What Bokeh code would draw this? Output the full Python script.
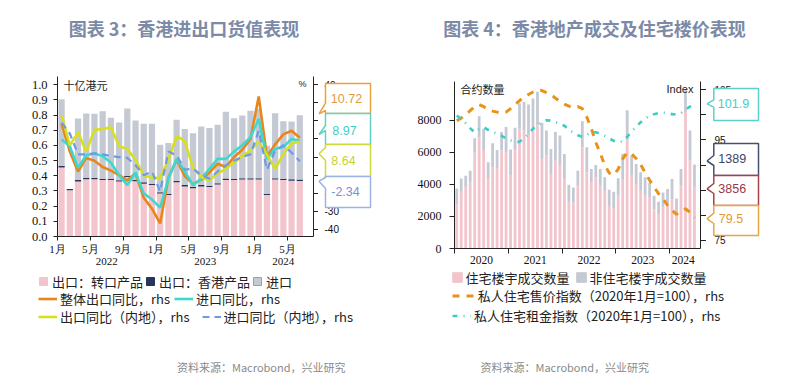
import numpy as np
from bokeh.plotting import figure
from bokeh.layouts import row, column
from bokeh.models import (Range1d, LinearAxis, FixedTicker, Legend, LegendItem, Label,
                          ColumnDataSource, PrintfTickFormatter)
from bokeh.core.properties import value
from bokeh.embed import file_html
from bokeh.resources import INLINE

# ---------------- Chart 3: Hong Kong trade, Jan 2022 - Jun 2024 ----------------
re_exports = [0.455, 0.305, 0.363, 0.378, 0.377, 0.372, 0.372, 0.362, 0.392, 0.365,
              0.348, 0.340, 0.284, 0.274, 0.357, 0.330, 0.318, 0.330, 0.326, 0.342,
              0.373, 0.372, 0.375, 0.375, 0.375, 0.274, 0.375, 0.372, 0.368, 0.366]
domestic_exports = [0.009, 0.008, 0.009, 0.009, 0.009, 0.009, 0.009, 0.009, 0.009, 0.009,
                    0.009, 0.008, 0.008, 0.008, 0.009, 0.009, 0.009, 0.009, 0.009, 0.009,
                    0.009, 0.009, 0.009, 0.009, 0.009, 0.008, 0.009, 0.009, 0.009, 0.009]
imports_val = [0.441, 0.000, 0.406, 0.424, 0.423, 0.445, 0.401, 0.381, 0.443, 0.391,
               0.386, 0.395, 0.312, 0.335, 0.403, 0.369, 0.353, 0.386, 0.380, 0.385,
               0.440, 0.399, 0.413, 0.445, 0.456, 0.316, 0.428, 0.379, 0.381, 0.425]
total_export_yoy = [18.4, 3.0, -8.0, -0.5, -2.0, -5.5, -7.5, -10.0, -13.0, -9.0,
                    -22.5, -28.5, -36.7, -11.5, -1.5, -10.5, -15.0, -12.5, -8.5, -3.7,
                    -5.5, 0.0, 4.0, 10.0, 33.5, 0.5, 7.0, 12.5, 14.5, 10.72]
import_yoy = [9.7, 6.0, -6.0, 1.0, 2.0, 0.5, -3.0, -10.0, -15.5, -8.5,
              -20.0, -23.5, -28.0, -12.0, -1.0, -8.0, -15.5, -12.0, -6.5, -1.0,
              -1.0, 3.0, 6.5, 11.0, 21.0, -1.0, 4.5, 5.5, 10.0, 8.97]
export_yoy_mainland = [23.0, 6.5, 13.5, 3.0, 15.0, 15.5, 16.5, 6.0, 4.5, -1.5,
                       -10.0, -11.5, -11.5, -1.5, 11.5, 9.0, -6.0, -11.0, -13.0, -9.0,
                       -6.5, -3.0, 0.5, 3.5, 8.5, 1.5, -6.5, 1.5, 7.5, 8.64]
import_yoy_mainland = [19.0, 13.0, 1.5, 1.5, 2.0, 1.5, 0.5, 0.0, -0.5, -4.5,
                       -10.0, -8.0, -19.0, 3.0, 1.0, -7.0, -6.5, -10.0, -12.0, -8.0,
                       -4.5, -2.0, 0.0, 1.5, 14.5, -7.0, 3.5, 6.5, 2.5, -2.34]
trade_month_ticks = [0, 4, 8, 12, 16, 20, 24, 28]
trade_month_labels = ["1月", "5月", "9月", "1月", "5月", "9月", "1月", "5月"]
trade_year_pos = [6, 18, 27.5]
trade_year_labels = ["2022", "2023", "2024"]
trade_rhs_ticks = list(range(-40, 41, 10))

# ---------------- Chart 4: HK property, Jan 2020 - Jun 2024 ----------------
residential = [2768, 3600, 3850, 4127, 6014, 6958, 6160, 4400, 5072, 5030, 6120, 6014,
               4546, 6160, 7482, 7378, 7063, 7482, 7692, 5594, 5805, 4650, 5490, 5175,
               4336, 2870, 2873, 3921, 6333, 4760, 4131, 4446, 3921, 3607, 2663, 2495,
               3292, 4341, 6752, 4550, 4026, 3607, 3292, 3187, 2453, 2139, 2558, 2768,
               3083, 2244, 3921, 8535, 5494, 3856]
non_residential = [986, 780, 696, 734, 881, 1300, 1322, 985, 1510, 1133, 1154, 1575,
                   1638, 1387, 1575, 1784, 1931, 1890, 2099, 2268, 1575, 1576, 1784, 1888,
                   1573, 1112, 944, 944, 1615, 1573, 839, 776, 1049, 839, 1007, 1049,
                   1091, 1573, 1888, 1259, 1258, 1153, 1154, 902, 839, 776, 944, 944,
                   1258, 881, 1049, 1363, 1887, 1389]
price_index = [98.8, 99.3, 100.0, 100.8, 101.6, 102.0, 101.6, 101.0, 100.7, 100.5, 100.3, 100.5,
               101.2, 102.0, 102.8, 103.5, 104.0, 104.5, 104.9, 104.8, 104.4, 104.0, 103.3, 102.6,
               102.1, 101.7, 101.4, 101.6, 101.2, 99.5, 97.3, 94.5, 92.3, 90.0, 88.4, 88.0,
               89.2, 91.2, 92.5, 92.2, 91.3, 90.1, 88.5, 87.0, 85.6, 84.3, 83.3, 82.0,
               81.0, 80.2, 80.8, 81.3, 80.6, 79.5]
rent_index = [99.8, 99.2, 98.3, 97.3, 96.5, 97.2, 97.5, 97.0, 96.6, 96.2, 95.8, 95.3,
              94.9, 94.6, 94.6, 95.3, 96.2, 97.2, 97.9, 98.5, 98.9, 98.8, 98.5, 98.3,
              97.8, 97.0, 96.4, 95.9, 95.6, 96.0, 96.5, 96.5, 96.2, 95.8, 95.3, 94.8,
              94.5, 94.7, 95.6, 96.6, 97.6, 98.5, 99.2, 99.8, 100.1, 100.3, 100.4, 100.3,
              100.1, 100.0, 100.3, 101.0, 101.6, 101.9]
prop_year_bounds = [0, 12, 24, 36, 48]
prop_year_pos = [6, 18, 30, 42, 51]
prop_year_labels = ["2020", "2021", "2022", "2023", "2024"]
prop_lhs_ticks = [0, 2000, 4000, 6000, 8000]
prop_rhs_ticks = list(range(75, 106, 5))

titles = ["图表 3：香港进出口货值表现", "图表 4：香港地产成交及住宅楼价表现"]
source_text = "资料来源：Macrobond，兴业研究"

# ---------------- styling ----------------
CJK = "Noto Sans CJK SC"
SERIF = "Liberation Serif"
SANS = "Liberation Sans"
PINK, NAVY, GRAY = "#f2c4cc", "#26365a", "#c4c9d3"
C_OR, C_CY, C_YE, C_BL = "#e8861a", "#3fd8cf", "#d6df22", "#6d9be4"
C_OR2, C_CY2 = "#e8921b", "#3ccdc4"
TITLE_C, SRC_C = "#7b8aa7", "#8a8a8a"
NONE = np.array([np.nan])  # legend-only renderers carry no visible data


def style_axis(ax, size="12px", font=SERIF, tick_out=4, standoff=5):
    ax.axis_line_color = "#222222"
    ax.major_tick_line_color = "#222222"
    ax.major_tick_in = 0
    ax.major_tick_out = tick_out
    ax.minor_tick_line_color = None
    ax.major_label_text_font = font
    ax.major_label_text_font_size = size
    ax.major_label_text_color = "#111111"
    ax.major_label_standoff = standoff


def chart_fig(w, h, xr, yr, bl, br, bt, bb):
    p = figure(width=w, height=h, x_range=xr, y_range=yr, output_backend="svg",
               toolbar_location=None, title=None, min_border_left=bl, min_border_right=br,
               min_border_top=bt, min_border_bottom=bb)
    p.xgrid.grid_line_color = None
    p.ygrid.grid_line_color = None
    p.outline_line_color = None
    return p


def blank_fig(w, h, xr, yr, bt=0, bb=0):
    p = figure(width=w, height=h, x_range=xr, y_range=yr, output_backend="svg",
               toolbar_location=None, title=None, x_axis_type=None, y_axis_type=None,
               min_border_left=0, min_border_right=0, min_border_top=bt, min_border_bottom=bb)
    p.outline_line_color = None
    p.xgrid.grid_line_color = None
    p.ygrid.grid_line_color = None
    return p


def frame_text(p, x, y, t, size, font=CJK, align="left"):
    p.add_layout(Label(x=x, y=y, x_units="screen", y_units="screen", text=t,
                       text_align=align, text_baseline="middle", text_font=font,
                       text_font_size=size, text_color="#222222"))


def callouts(b, boxes, x0, x1, xt, line_cols, texts, txt_cols, txt_pos):
    xs, ys = [], []
    for ytop, ybot, ba, bb, tip in boxes:
        xs.append([x0, x1, x1, x0, x0, xt, x0])
        ys.append([ytop, ytop, ybot, ybot, bb, tip, ba])
    b.patches(xs, ys, fill_color="white", line_color=line_cols, line_width=1.5)
    b.text(x=[p[0] for p in txt_pos], y=[p[1] for p in txt_pos], text=texts,
           text_color=txt_cols, text_align="center", text_baseline="middle",
           text_font=value(SANS), text_font_size="12.5px")


def legend_row(p, items, vx, vy, gw, gh, standoff, spacing, lh=15):
    leg = Legend(items=items, location=(vx, vy), orientation="horizontal",
                 glyph_width=gw, glyph_height=gh, label_height=lh, label_width=10,
                 label_standoff=standoff, spacing=spacing, padding=0, margin=0,
                 border_line_color=None, background_fill_alpha=0,
                 label_text_font=CJK, label_text_font_size="13px",
                 label_text_color="#222222")
    p.add_layout(leg)


# ================= titles strip =================
top = blank_fig(800, 55, Range1d(0, 800), Range1d(55, 0))
top.text(x=[183.5, 594], y=[27, 27], text=titles, text_align="center",
         text_baseline="middle", text_font=value(CJK), text_font_size="18px",
         text_font_style="bold", text_color=TITLE_C)

# ================= Chart 3 =================
n1 = len(re_exports)
src1 = ColumnDataSource(dict(x=np.arange(n1) + 0.5, re=re_exports, dom=domestic_exports,
                             imp=imports_val, t=total_export_yoy, i=import_yoy,
                             em=export_yoy_mainland, im=import_yoy_mainland))
rhs1 = (-43.9, 44.5)
p1 = chart_fig(318, 217, Range1d(0, 31.17), Range1d(0, 1.0547), 57, 5, 21, 36)
p1.extra_y_ranges = {"rhs": Range1d(*rhs1)}
p1.vbar_stack(["re", "dom", "imp"], x="x", width=0.76, source=src1,
              color=[PINK, NAVY, GRAY], line_color=None)
p1.line("x", "t", source=src1, y_range_name="rhs", color=C_OR, line_width=2.6)
p1.line("x", "i", source=src1, y_range_name="rhs", color=C_CY, line_width=2.6)
p1.line("x", "em", source=src1, y_range_name="rhs", color=C_YE, line_width=2.6)
p1.line("x", "im", source=src1, y_range_name="rhs", color=C_BL, line_width=2.2,
        line_dash="7 5")

ya = p1.yaxis[0]
style_axis(ya, size="12.5px", standoff=6)
ya.ticker = FixedTicker(ticks=[round(v, 1) for v in np.arange(0, 1.01, 0.1)])
ya.formatter = PrintfTickFormatter(format="%.1f")

xa = p1.xaxis[0]
style_axis(xa, size="11px", standoff=2)
xa.ticker = FixedTicker(ticks=trade_month_ticks)
xa.major_label_overrides = dict(zip(trade_month_ticks, trade_month_labels))

yr_ax = LinearAxis(ticker=FixedTicker(ticks=trade_year_pos),
                   major_label_overrides=dict(zip(trade_year_pos, trade_year_labels)))
style_axis(yr_ax, size="11px", tick_out=0, standoff=0)
yr_ax.axis_line_color = None
yr_ax.major_tick_line_color = None
p1.add_layout(yr_ax, "below")

ra = LinearAxis(y_range_name="rhs", ticker=FixedTicker(ticks=trade_rhs_ticks),
                major_label_overrides={t: "" for t in trade_rhs_ticks})
style_axis(ra, size="10px", font=SANS, tick_out=5, standoff=0)
p1.add_layout(ra, "right")

frame_text(p1, 6, 152, "十亿港元", "11px")
frame_text(p1, 245, 153, "%", "9px", font=SANS, align="center")

# right-hand labels and latest-value callouts of chart 3
b1 = blank_fig(82, 217, Range1d(318, 400), Range1d(236, 76), bt=21, bb=36)
b1.extra_y_ranges = {"rhs": Range1d(*rhs1)}
b1.text(x=[324] * len(trade_rhs_ticks), y=trade_rhs_ticks, y_range_name="rhs",
        text=[str(t) for t in trade_rhs_ticks], text_baseline="middle",
        text_font=value(SANS), text_font_size="10px", text_color="#111111")
callouts(b1, [(83, 113, 102.7, 110, 113.3), (113, 144, 125, 130, 134),
              (144, 176, 147, 160, 153.3), (176, 207, 177, 188, 180.7)],
         325, 370, 318.5, ["#e8a23c", "#5fd3c8", "#cfd83a", "#9ab4e4"],
         [f"{v:.2f}" for v in (total_export_yoy[-1], import_yoy[-1],
                               export_yoy_mainland[-1], import_yoy_mainland[-1])],
         ["#e39a3c", "#3fcfc6", "#c9d42a", "#7393d6"],
         [(346, 98), (344, 130), (343, 160), (345, 191)])

# legend + source under chart 3 (legend entries styled like the series)
lg1 = blank_fig(400, 115, Range1d(0, 400), Range1d(387, 272))
r_a = lg1.vbar(x=NONE, top=NONE, width=1, color=PINK)
r_b = lg1.vbar(x=NONE, top=NONE, width=1, color=NAVY)
r_c = lg1.vbar(x=NONE, top=NONE, width=1, fill_color=GRAY, line_color="#9aa0ad")
r_d = lg1.line(x=NONE, y=NONE, color=C_OR, line_width=2.6)
r_e = lg1.line(x=NONE, y=NONE, color=C_CY, line_width=2.6)
r_f = lg1.line(x=NONE, y=NONE, color=C_YE, line_width=2.6)
r_g = lg1.line(x=NONE, y=NONE, color=C_BL, line_width=2.2, line_dash="7 5")
legend_row(lg1, [LegendItem(label="出口：转口产品", renderers=[r_a]),
                 LegendItem(label="出口：香港产品", renderers=[r_b]),
                 LegendItem(label="进口", renderers=[r_c])],
           38, 115 - (8.7 + 7.5) - 2.5, 10, 10, 4, 2)
legend_row(lg1, [LegendItem(label="整体出口同比，rhs", renderers=[r_d]),
                 LegendItem(label="进口同比，rhs", renderers=[r_e])],
           38, 115 - (26.3 + 7.5) - 2.5, 19, 15, 3, 4)
legend_row(lg1, [LegendItem(label="出口同比（内地），rhs", renderers=[r_f]),
                 LegendItem(label="进口同比（内地），rhs", renderers=[r_g])],
           38, 115 - (43.7 + 7.5) - 2.5, 19, 15, 3, 12)
lg1.text(x=[176.5], y=[366.7], text=[source_text], text_baseline="middle",
         text_font=value(CJK), text_font_size="11px", text_color=SRC_C)

# ================= Chart 4 =================
n2 = len(residential)
src2 = ColumnDataSource(dict(x=np.arange(n2) + 0.5, res=residential, nres=non_residential,
                             price=price_index, rent=rent_index))
rhs2 = (73.41, 106.59)
p2 = chart_fig(306, 213, Range1d(0, 54.85), Range1d(0, 10437), 54, 6, 26, 20)
p2.extra_y_ranges = {"rhs": Range1d(*rhs2)}
p2.vbar_stack(["res", "nres"], x="x", width=0.62, source=src2,
              color=[PINK, GRAY], line_color=None)
p2.line("x", "price", source=src2, y_range_name="rhs", color=C_OR2, line_width=3,
        line_dash="7 7")
p2.line("x", "rent", source=src2, y_range_name="rhs", color=C_CY2, line_width=2.6,
        line_dash="5 6 1 6")

ya2 = p2.yaxis[0]
style_axis(ya2, size="12px", tick_out=5, standoff=8)
ya2.ticker = FixedTicker(ticks=prop_lhs_ticks)

xa2 = p2.xaxis[0]
style_axis(xa2, size="11.5px", tick_out=0, standoff=2)
xa2.ticker = FixedTicker(ticks=prop_year_pos, minor_ticks=prop_year_bounds)
xa2.major_label_overrides = dict(zip(prop_year_pos, prop_year_labels))
xa2.major_tick_line_color = None
xa2.minor_tick_line_color = "#222222"
xa2.minor_tick_in = 0
xa2.minor_tick_out = 5

ra2 = LinearAxis(y_range_name="rhs", ticker=FixedTicker(ticks=prop_rhs_ticks),
                 major_label_overrides={t: "" for t in prop_rhs_ticks})
style_axis(ra2, size="10px", font=SANS, tick_out=6, standoff=0)
p2.add_layout(ra2, "right")

frame_text(p2, 6, 160, "合约数量", "11px")
frame_text(p2, 212, 160, "Index", "11px", font=SANS)

b2 = blank_fig(94, 213, Range1d(706, 800), Range1d(248, 81), bt=26, bb=20)
b2.extra_y_ranges = {"rhs": Range1d(*rhs2)}
b2.text(x=[714] * len(prop_rhs_ticks), y=prop_rhs_ticks, y_range_name="rhs",
        text=[str(t) for t in prop_rhs_ticks], text_baseline="middle",
        text_font=value(SANS), text_font_size="10px", text_color="#111111")
callouts(b2, [(88, 120, 99.3, 106.7, 103.3), (143, 175, 155, 165, 160.5),
              (175, 205, 183, 193, 188.3), (205, 235, 212.7, 223, 218.3)],
         713.3, 758, 706.5, ["#5cd2cb", "#46506e", "#a8404c", "#e8a544"],
         [f"{rent_index[-1]:.1f}", f"{non_residential[-1]}", f"{residential[-1]}",
          f"{price_index[-1]:.1f}"],
         ["#45cec6", "#3a4666", "#a03644", "#e59a2e"],
         [(733, 103.3), (731.7, 158.3), (731.7, 188.3), (730.5, 218.3)])

lg2 = blank_fig(400, 119, Range1d(400, 800), Range1d(387, 268))
s_a = lg2.vbar(x=NONE, top=NONE, width=1, color=PINK)
s_b = lg2.vbar(x=NONE, top=NONE, width=1, color=GRAY)
s_c = lg2.line(x=NONE, y=NONE, color=C_OR2, line_width=3, line_dash="7 7")
s_d = lg2.line(x=NONE, y=NONE, color=C_CY2, line_width=2.6, line_dash="5 6 1 6")
legend_row(lg2, [LegendItem(label="住宅楼宇成交数量", renderers=[s_a]),
                 LegendItem(label="非住宅楼宇成交数量", renderers=[s_b])],
           50.5, 119 - (8.7 + 7.5) - 2.5, 12, 12, 3, 5)
legend_row(lg2, [LegendItem(label="私人住宅售价指数（2020年1月=100），rhs", renderers=[s_c])],
           51.7, 119 - (27.7 + 7.5) - 1.5, 22, 15, 4, 4)
legend_row(lg2, [LegendItem(label="私人住宅租金指数（2020年1月=100），rhs", renderers=[s_d])],
           52, 119 - (47.7 + 7.5) - 1.5, 19, 15, 3, 4)
lg2.text(x=[480], y=[366.7], text=[source_text], text_baseline="middle",
         text_font=value(CJK), text_font_size="11px", text_color=SRC_C)

layout = column(top, row(column(row(p1, b1), lg1), column(row(p2, b2), lg2)))
open("out.html", "w").write(file_html(layout, INLINE))
